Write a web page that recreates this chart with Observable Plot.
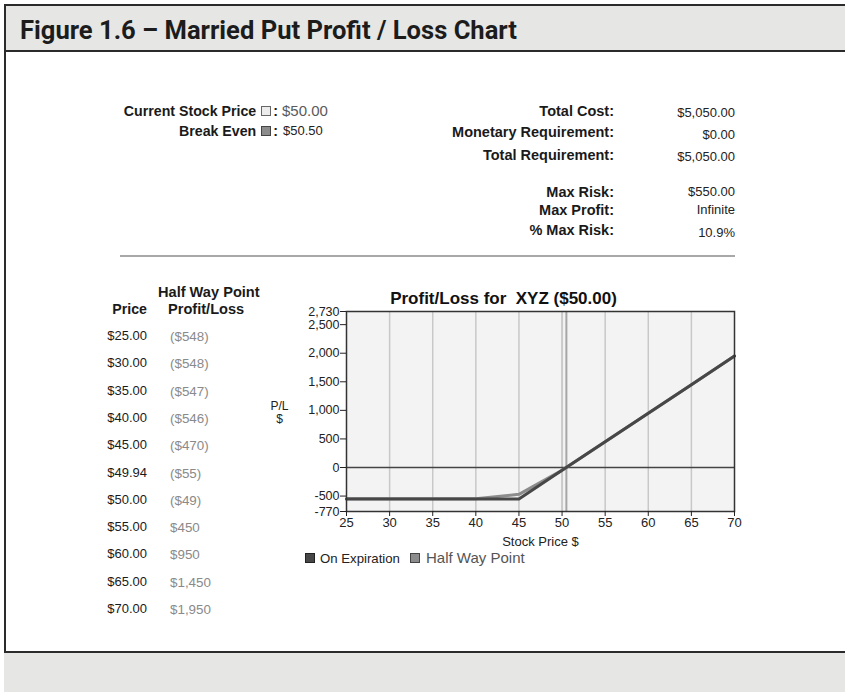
<!DOCTYPE html>
<html>
<head>
<meta charset="utf-8">
<script src="https://cdn.jsdelivr.net/npm/d3@7"></script>
<script src="https://cdn.jsdelivr.net/npm/@observablehq/plot@0.6"></script>
<style>
  html, body { margin: 0; padding: 0; background: #fff; }
  #page { position: relative; width: 845px; height: 692px; overflow: hidden; font-family: "Liberation Sans", Arial, sans-serif; color: #1a1a1a; }
  .abs { position: absolute; white-space: nowrap; line-height: 16px; }
  .b { font-weight: bold; }
  .sq { display: inline-block; width: 8px; height: 8px; border: 1px solid #555; vertical-align: 0px; margin: 0 2px 0 5px; }
</style>
</head>
<body>
<div id="page"></div>
<script>
// ---------------- data ----------------
const figureTitle = "Figure 1.6 \u2013 Married Put Profit / Loss Chart";
const chartTitle = "Profit/Loss for\u00a0 XYZ ($50.00)";
const currentPrice = 50.00;
const breakEven = 50.50;

const summaryLabels = ["Total Cost:", "Monetary Requirement:", "Total Requirement:", "Max Risk:", "Max Profit:", "% Max Risk:"];
const summaryValues = ["$5,050.00", "$0.00", "$5,050.00", "$550.00", "Infinite", "10.9%"];

// Half way point table / series
const hwPrices = [25, 30, 35, 40, 45, 49.94, 50, 55, 60, 65, 70];
const hwPL = [-548, -548, -547, -546, -470, -55, -49, 450, 950, 1450, 1950];

// On expiration series
const expPrices = [25, 30, 35, 40, 45, 50, 55, 60, 65, 70];
const expPL = [-550, -550, -550, -550, -550, -50, 450, 950, 1450, 1950];

const xTicks = [25, 30, 35, 40, 45, 50, 55, 60, 65, 70];
const yTicks = [-770, -500, 0, 500, 1000, 1500, 2000, 2500, 2730];
const gridX = [30, 35, 40, 45, 50, 55, 60, 65];
const seriesNames = ["On Expiration", "Half Way Point"];

// ---------------- layout ----------------
const page = document.getElementById("page");
function el(html, css) {
  const d = document.createElement("div");
  d.className = "abs";
  d.innerHTML = html;
  Object.assign(d.style, css);
  page.appendChild(d);
  return d;
}
function right(html, x, y, css = {}) { return el(html, Object.assign({left: (x - 400) + "px", width: "400px", textAlign: "right", top: (y - 8) + "px"}, css)); }
function left(html, x, y, css = {}) { return el(html, Object.assign({left: x + "px", top: (y - 8) + "px"}, css)); }

// outer frame
el("", {left: "4px", top: "4px", width: "900px", height: "44px", background: "#e6e7e5", border: "2px solid #2b2b2b"});
el("", {left: "4px", top: "50px", width: "2px", height: "650px", background: "#2b2b2b"});
el("", {left: "4px", top: "651px", width: "900px", height: "60px", background: "#e6e7e5", borderTop: "2px solid #2b2b2b"});
const ttl = el(figureTitle, {left: "20px", top: "16px", lineHeight: "30px", fontFamily: "Roboto, 'Liberation Sans', sans-serif", fontWeight: "bold", fontSize: "25px", color: "#1c1c1c", transformOrigin: "0 50%"});
const tw = ttl.getBoundingClientRect().width;
ttl.style.transform = "scaleX(" + (497 / tw) + ")";

// top-left info
right('<span class="b">Current Stock Price</span><span class="sq" style="background:#ececec;border-color:#666"></span><span class="b">:</span>', 278, 111, {fontSize: "14.2px"});
left('$50.00', 282, 111, {fontSize: "15px", color: "#5a5a5a"});
right('<span class="b">Break Even</span><span class="sq" style="background:#8c8c8c;border-color:#444"></span><span class="b">:</span>', 278, 131, {fontSize: "14.2px"});
left('$' + breakEven.toFixed(2), 283, 131, {fontSize: "13px", color: "#222"});

// top-right summary
const labelY = [111, 132, 155, 192, 210, 230];
const valueY = [113, 135, 157, 192, 210, 233];
summaryLabels.forEach((s, i) => right(s, 614, labelY[i], {fontSize: "14.5px", fontWeight: "bold"}));
summaryValues.forEach((s, i) => right(s, 735, valueY[i], {fontSize: "13px", color: "#222"}));

el("", {left: "120px", top: "255px", width: "615px", height: "2px", background: "#a8a8a8"});

// left table
el('Half Way Point', {left: "158px", top: "284px", fontSize: "14.6px", fontWeight: "bold"});
right('Price', 147, 309, {fontSize: "14.2px", fontWeight: "bold"});
left('Profit/Loss', 168, 309, {fontSize: "14.6px", fontWeight: "bold"});
const fmtMoney = v => (v < 0 ? "($" + d3.format(",")(-v) + ")" : "$" + d3.format(",")(v));
hwPrices.forEach((p, i) => {
  const y = 336 + i * 27.3;
  right("$" + p.toFixed(2), 147, y, {fontSize: "13px", color: "#1a1a1a"});
  left(fmtMoney(hwPL[i]), 170, y + 1, {fontSize: "13.4px", color: "#8a8a8a"});
});

// ---------------- chart ----------------
const hwData = hwPrices.map((x, i) => ({x, y: hwPL[i]}));
const expData = expPrices.map((x, i) => ({x, y: expPL[i]}));
const fmtY = d => (d < 0 ? "-" : "") + d3.format(",")(Math.abs(d));

const chart = Plot.plot({
  width: 500,
  height: 285,
  marginLeft: 96,
  marginRight: 16,
  marginTop: 36,
  marginBottom: 49,
  style: {fontFamily: "'Liberation Sans', Arial, sans-serif", fontSize: "13px", color: "#222", background: "transparent", overflow: "visible"},
  x: {domain: [25, 70]},
  y: {domain: [-770, 2730]},
  marks: [
    Plot.frame({fill: "#f3f3f3"}),
    Plot.ruleX(gridX.filter(d => d !== currentPrice), {stroke: "#c8c8c8", strokeWidth: 1.5}),
    Plot.ruleX([currentPrice], {stroke: "#cacaca", strokeWidth: 2}),
    Plot.ruleX([breakEven], {stroke: "#a6a6a6", strokeWidth: 2}),
    Plot.ruleY([0], {stroke: "#444", strokeWidth: 1.5}),
    Plot.line(hwData, {x: "x", y: "y", stroke: "#8c8c8c", strokeWidth: 3}),
    Plot.line(expData, {x: "x", y: "y", stroke: "#474747", strokeWidth: 3}),
    Plot.frame({stroke: "#333", strokeWidth: 1.5}),
    Plot.axisX({ticks: xTicks, tickSize: 5, tickPadding: 1, fontSize: 13, label: "Stock Price $", labelAnchor: "center", labelArrow: "none", labelOffset: 34}),
    Plot.axisY({ticks: yTicks, tickSize: 6, tickPadding: 1, fontSize: 12.5, tickFormat: fmtY, label: null}),
    Plot.text([chartTitle], {frameAnchor: "top", lineAnchor: "bottom", dx: -37, dy: -8, fontWeight: "bold", fontSize: 17, fill: "#111"}),
    Plot.text(["P/L\n$"], {frameAnchor: "left", dx: -67, dy: 1, textAnchor: "middle", fontSize: 12, fill: "#222", lineHeight: 1.05})
  ]
});
chart.style.position = "absolute";
chart.style.left = "250px";
chart.style.top = "275px";
page.appendChild(chart);

// legend
const legendColors = ["#474747", "#8c8c8c"];
el('<span class="sq" style="background:' + legendColors[0] + ';border-color:#222;margin:0 5px 0 0"></span>' + seriesNames[0], {left: "305px", top: "551px", fontSize: "13.2px", color: "#222"});
el('<span class="sq" style="background:' + legendColors[1] + ';border-color:#444;margin:0 6px 0 0"></span>' + seriesNames[1], {left: "410px", top: "550px", fontSize: "15px", color: "#555"});
</script>
</body>
</html>
